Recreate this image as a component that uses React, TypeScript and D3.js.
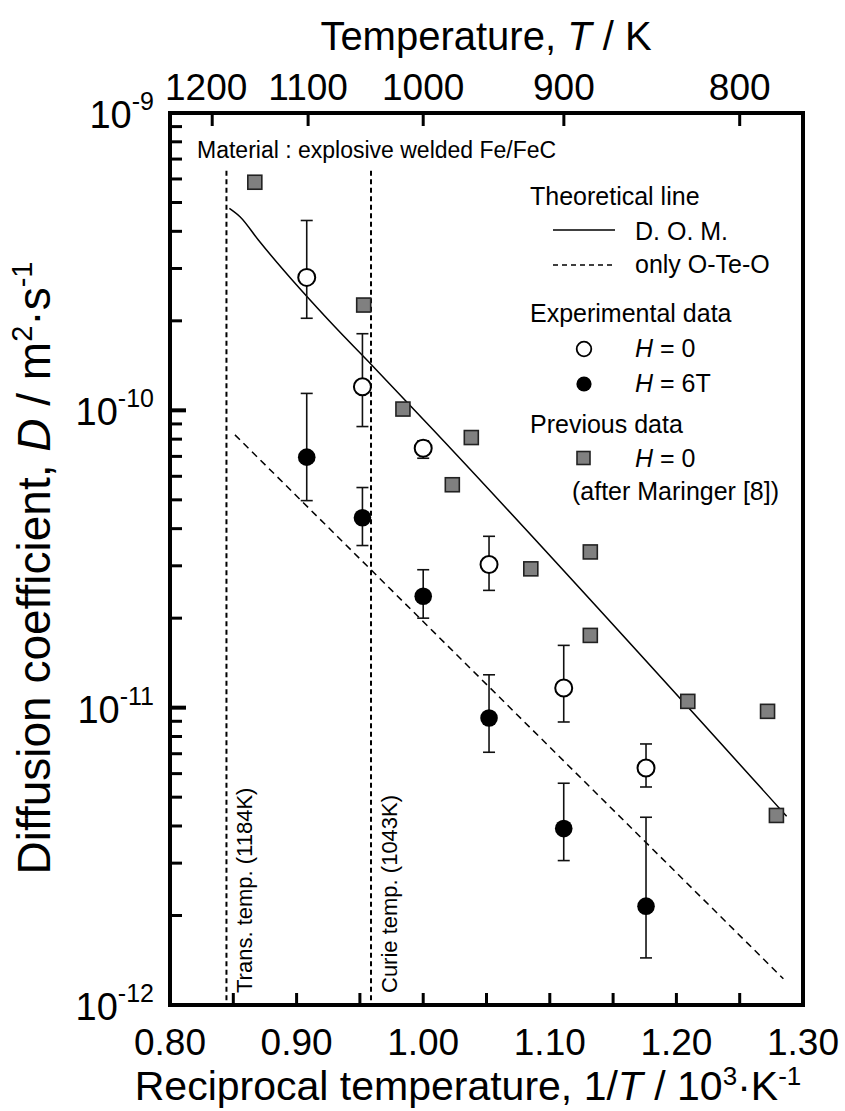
import React from "react";
import * as d3 from "d3";

// reciprocal temperature (1000/T) and diffusion coefficient D (m2/s)
const openX = [0.908, 0.952, 1.0, 1.052, 1.111, 1.176];
const openD = [2.8e-10, 1.2e-10, 7.46e-11, 3.03e-11, 1.165e-11, 6.27e-12];
const openHi = [4.35e-10, 1.81e-10, 7.9e-11, 3.77e-11, 1.62e-11, 7.55e-12];
const openLo = [2.04e-10, 8.82e-11, 6.9e-11, 2.48e-11, 8.95e-12, 5.41e-12];

const fillX = [0.908, 0.952, 1.0, 1.052, 1.111, 1.176];
const fillD = [6.96e-11, 4.35e-11, 2.37e-11, 9.23e-12, 3.92e-12, 2.15e-12];
const fillHi = [1.14e-10, 5.5e-11, 2.91e-11, 1.29e-11, 5.57e-12, 4.28e-12];
const fillLo = [4.97e-11, 3.51e-11, 2.0e-11, 7.08e-12, 3.06e-12, 1.44e-12];

// Maringer [8]
const prevX = [0.867, 0.953, 0.984, 1.023, 1.038, 1.085, 1.132, 1.132, 1.209, 1.272, 1.279];
const prevD = [5.85e-10, 2.26e-10, 1.01e-10, 5.62e-11, 8.1e-11, 2.93e-11, 3.34e-11, 1.75e-11, 1.05e-11, 9.72e-12, 4.34e-12];

// theoretical lines
const domX = [0.8469, 0.8553, 0.8698, 0.9317, 0.958, 1.0054, 1.2871];
const domD = [4.78e-10, 4.48e-10, 3.74e-10, 1.88e-10, 1.44e-10, 8.82e-11, 4.31e-12];
const oteoX = [0.8513, 1.2845];
const oteoD = [8.27e-11, 1.225e-12];

// transition temperatures (K)
const transT = [1184, 1043];
const transLabels = ["Trans. temp. (1184K)", "Curie temp. (1043K)"];
const transTopD = 6.4e-10;

const xTickLabels = ["0.80", "0.90", "1.00", "1.10", "1.20", "1.30"];
const tempTicks = [1200, 1100, 1000, 900, 800];
const decades = [-9, -10, -11, -12];

const W = 845;
const H = 1111;
const left = 170, right = 803, top = 113, bottom = 1005;
const font = "'Liberation Sans', Arial, sans-serif";

export default function App() {
  const x = d3.scaleLinear().domain([0.8, 1.3]).range([left, right]);
  const y = d3.scaleLog().domain([1e-12, 1e-9]).range([bottom, top]);

  const domPath = d3.line<number>().x((d) => x(d)).y((_, i) => y(domD[i])).curve(d3.curveMonotoneX)(domX) || "";
  const oteoPath = d3.line<number>().x((d) => x(d)).y((_, i) => y(oteoD[i]))(oteoX) || "";

  const minorX = d3.range(0.85, 1.26, 0.05);
  const minorY: number[] = [];
  [-12, -11, -10].forEach((e) => {
    for (let m = 2; m <= 9; m++) minorY.push(m * Math.pow(10, e));
  });

  const errBar = (xs: number[], lo: number[], hi: number[], key: string) =>
    xs.map((xv, i) => {
      const cx = x(xv);
      return (
        <g key={key + i} stroke="#111" strokeWidth={1.6}>
          <line x1={cx} x2={cx} y1={y(lo[i])} y2={y(hi[i])} />
          <line x1={cx - 6} x2={cx + 6} y1={y(lo[i])} y2={y(lo[i])} />
          <line x1={cx - 6} x2={cx + 6} y1={y(hi[i])} y2={y(hi[i])} />
        </g>
      );
    });

  return (
    <svg width={W} height={H} style={{ position: "absolute", left: 0, top: 0, background: "#fff" }} fontFamily={font}>
      <rect width={W} height={H} fill="#fff" />

      {/* transition lines */}
      {transT.map((t, i) => {
        const lx = x(1000 / t);
        return (
          <g key={"tr" + i}>
            <line x1={lx} x2={lx} y1={y(transTopD)} y2={bottom} stroke="#000" strokeWidth={2} strokeDasharray="5,3.5" />
            <text transform={`translate(${lx + 26},${bottom - 12}) rotate(-90)`} fontSize={22}>
              {transLabels[i]}
            </text>
          </g>
        );
      })}

      {/* theoretical lines */}
      <path d={domPath} fill="none" stroke="#000" strokeWidth={1.5} />
      <path d={oteoPath} fill="none" stroke="#000" strokeWidth={1.5} strokeDasharray="7,5" />

      {/* previous data */}
      {prevX.map((xv, i) => (
        <rect key={"p" + i} x={x(xv) - 7} y={y(prevD[i]) - 7} width={14} height={14} fill="#808080" stroke="#222" strokeWidth={1.6} />
      ))}

      {errBar(openX, openLo, openHi, "eo")}
      {errBar(fillX, fillLo, fillHi, "ef")}
      {openX.map((xv, i) => (
        <circle key={"o" + i} cx={x(xv)} cy={y(openD[i])} r={8.5} fill="#fff" stroke="#000" strokeWidth={2} />
      ))}
      {fillX.map((xv, i) => (
        <circle key={"f" + i} cx={x(xv)} cy={y(fillD[i])} r={8.8} fill="#000" />
      ))}

      {/* frame */}
      <rect x={left} y={top} width={right - left} height={bottom - top} fill="none" stroke="#000" strokeWidth={4} />

      {/* bottom ticks */}
      {minorX.map((v, i) => (
        <line key={"bx" + i} x1={x(v)} x2={x(v)} y1={bottom} y2={bottom - 12} stroke="#000" strokeWidth={3} />
      ))}
      {xTickLabels.map((s, i) => (
        <text key={"xl" + i} x={x(+s)} y={1055} textAnchor="middle" fontSize={37}>{s}</text>
      ))}

      {/* top ticks (temperature) */}
      {tempTicks.map((t, i) => (
        <g key={"tt" + i}>
          <line x1={x(1000 / t)} x2={x(1000 / t)} y1={top} y2={top + 13} stroke="#000" strokeWidth={3} />
          <text x={x(1000 / t) - (i === 0 ? 6 : 0)} y={100} textAnchor="middle" fontSize={37}>{t}</text>
        </g>
      ))}

      {/* left ticks */}
      {minorY.map((v, i) => (
        <line key={"my" + i} x1={left} x2={left + 12} y1={y(v)} y2={y(v)} stroke="#000" strokeWidth={3} />
      ))}
      {decades.map((e) => (
        <g key={"d" + e}>
          <line x1={left} x2={left + 16} y1={y(Math.pow(10, e))} y2={y(Math.pow(10, e))} stroke="#000" strokeWidth={4} />
          <text x={154} y={y(Math.pow(10, e)) + 15} textAnchor="end" fontSize={38}>
            10<tspan fontSize={25} dy={-18}>{`${e}`}</tspan>
          </text>
        </g>
      ))}

      {/* axis titles */}
      <text x={486} y={50} textAnchor="middle" fontSize={40}>
        Temperature, <tspan fontStyle="italic">T</tspan> / K
      </text>
      <text x={468} y={1100} textAnchor="middle" fontSize={41}>
        Reciprocal temperature, 1/<tspan fontStyle="italic">T</tspan> / 10
        <tspan fontSize={26} dy={-15}>3</tspan>
        <tspan dy={15}>·K</tspan>
        <tspan fontSize={26} dy={-15}>-1</tspan>
      </text>
      <text transform={`translate(50,568) rotate(-90)`} textAnchor="middle" fontSize={46}>
        Diffusion coefficient, <tspan fontStyle="italic">D</tspan> / m
        <tspan fontSize={29} dy={-18}>2</tspan>
        <tspan dy={18}>·s</tspan>
        <tspan fontSize={29} dy={-18}>-1</tspan>
      </text>

      {/* annotations & legend */}
      <text x={197} y={158} fontSize={23}>Material : explosive welded Fe/FeC</text>

      <g fontSize={25}>
        <text x={530} y={205}>Theoretical line</text>
        <line x1={553} x2={615} y1={230} y2={230} stroke="#000" strokeWidth={1.5} />
        <text x={635} y={240}>D. O. M.</text>
        <line x1={553} x2={615} y1={265} y2={265} stroke="#000" strokeWidth={1.5} strokeDasharray="5,4" />
        <text x={635} y={273}>only O-Te-O</text>

        <text x={530} y={322}>Experimental data</text>
        <circle cx={584} cy={349} r={7.3} fill="#fff" stroke="#000" strokeWidth={1.8} />
        <text x={635} y={357}><tspan fontStyle="italic">H</tspan> = 0</text>
        <circle cx={584} cy={384} r={7.6} fill="#000" />
        <text x={635} y={392}><tspan fontStyle="italic">H</tspan> = 6T</text>

        <text x={530} y={433}>Previous data</text>
        <rect x={577} y={451.5} width={13} height={13} fill="#808080" stroke="#222" strokeWidth={1.6} />
        <text x={635} y={467}><tspan fontStyle="italic">H</tspan> = 0</text>
        <text x={572} y={500}>(after Maringer [8])</text>
      </g>
    </svg>
  );
}
